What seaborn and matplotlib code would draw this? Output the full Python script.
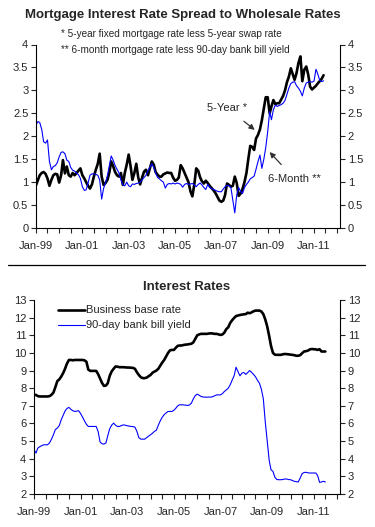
import pandas as pd
import numpy as np
import seaborn as sns
import matplotlib.pyplot as plt
import matplotlib.dates as mdates
from matplotlib.lines import Line2D
from matplotlib.ticker import FuncFormatter, MultipleLocator

# monthly data, Jan-99 onwards
five_year = [
    0.93, 1.05, 1.15, 1.20, 1.22, 1.18, 1.08, 0.92, 1.05, 1.15, 1.18, 1.17,
    0.99, 1.15, 1.48, 1.19, 1.34, 1.15, 1.12, 1.20, 1.15, 1.20, 1.25, 1.30,
    1.15, 1.08, 1.00, 0.92, 0.86, 0.95, 1.12, 1.27, 1.40, 1.62, 1.12, 0.94,
    0.98, 1.05, 1.20, 1.45, 1.35, 1.22, 1.15, 1.12, 1.20, 0.94, 1.20, 1.38,
    1.60, 1.34, 1.05, 1.20, 1.40, 1.10, 0.95, 1.10, 1.23, 1.27, 1.15, 1.30,
    1.45, 1.38, 1.22, 1.16, 1.12, 1.12, 1.17, 1.19, 1.21, 1.20, 1.20, 1.10,
    1.03, 1.05, 1.10, 1.37, 1.30, 1.20, 1.10, 1.00, 0.80, 0.69, 0.95, 1.30,
    1.25, 1.10, 1.02, 0.97, 1.03, 0.98, 0.92, 0.87, 0.82, 0.76, 0.68, 0.60,
    0.57, 0.60, 0.72, 0.97, 0.94, 0.90, 0.92, 1.12, 0.98, 0.70, 0.75, 0.85,
    1.00, 1.20, 1.50, 1.79, 1.77, 1.70, 1.95, 2.03, 2.15, 2.35, 2.60, 2.85,
    2.85, 2.50, 2.65, 2.79, 2.70, 2.72, 2.72, 2.80, 2.88, 3.00, 3.18, 3.30,
    3.48, 3.35, 3.23, 3.38, 3.60, 3.74, 3.20, 3.45, 3.52, 3.35, 3.08, 3.02,
    3.06, 3.10, 3.15, 3.20, 3.25, 3.33,
]
six_month = [
    2.25, 2.32, 2.30, 2.15, 1.88, 1.85, 1.92, 1.45, 1.27, 1.34, 1.36, 1.42,
    1.55, 1.65, 1.66, 1.62, 1.48, 1.45, 1.32, 1.26, 1.24, 1.20, 1.16, 1.08,
    0.90, 0.82, 0.83, 0.98, 1.15, 1.18, 1.18, 1.17, 1.15, 1.05, 0.63, 0.86,
    0.98, 1.15, 1.35, 1.57, 1.48, 1.36, 1.28, 1.20, 1.05, 0.94, 0.92, 1.00,
    0.92, 0.90, 0.96, 0.95, 0.97, 0.98, 1.00, 1.05, 1.10, 1.15, 1.25, 1.32,
    1.40, 1.32, 1.20, 1.10, 1.07, 1.03, 1.00, 0.87, 0.95, 0.97, 0.96, 0.98,
    0.96, 0.98, 0.97, 0.95, 0.89, 0.95, 0.97, 0.95, 0.96, 0.97, 0.94, 0.90,
    0.95, 0.98, 0.94, 0.88, 0.84, 0.95, 0.88, 0.86, 0.84, 0.82, 0.80, 0.79,
    0.79, 0.85, 0.90, 0.93, 0.92, 0.88, 0.61, 0.33, 0.72, 0.88, 0.80, 0.75,
    0.88, 0.95, 1.00, 1.07, 1.10, 1.13, 1.28, 1.45, 1.59, 1.30, 1.50, 1.75,
    2.10, 2.54, 2.36, 2.58, 2.68, 2.65, 2.67, 2.69, 2.72, 2.78, 2.92, 3.05,
    3.15, 3.18, 3.19, 3.10, 3.05, 2.98, 2.88, 3.05, 3.16, 3.18, 3.19, 3.18,
    3.20, 3.46, 3.36, 3.22, 3.19, 3.21,
]
base_rate = [
    7.62, 7.62, 7.55, 7.53, 7.53, 7.53, 7.53, 7.53, 7.55, 7.62, 7.75, 8.05,
    8.40, 8.50, 8.65, 8.85, 9.10, 9.40, 9.60, 9.60, 9.58, 9.60, 9.60, 9.60,
    9.60, 9.60, 9.58, 9.50, 9.05, 8.98, 8.98, 8.98, 8.98, 8.80, 8.55, 8.30,
    8.13, 8.15, 8.28, 8.70, 8.95, 9.10, 9.23, 9.22, 9.19, 9.19, 9.19, 9.18,
    9.17, 9.17, 9.16, 9.15, 9.10, 8.90, 8.75, 8.62, 8.57, 8.57, 8.60, 8.68,
    8.75, 8.88, 8.94, 9.00, 9.10, 9.28, 9.45, 9.60, 9.80, 10.00, 10.15, 10.17,
    10.17, 10.30, 10.40, 10.42, 10.42, 10.45, 10.47, 10.48, 10.50, 10.52, 10.60, 10.80,
    11.00, 11.05, 11.08, 11.08, 11.08, 11.08, 11.10, 11.11, 11.10, 11.08, 11.08, 11.05,
    11.02, 11.05, 11.15, 11.35, 11.45, 11.70, 11.85, 11.98, 12.09, 12.12, 12.15, 12.17,
    12.19, 12.20, 12.28, 12.25, 12.30, 12.36, 12.40, 12.40, 12.40, 12.35, 12.20, 11.90,
    11.50, 10.95, 10.40, 10.00, 9.90, 9.89, 9.89, 9.89, 9.92, 9.94, 9.93, 9.92,
    9.90, 9.89, 9.87, 9.84, 9.84, 9.87, 9.98, 10.08, 10.10, 10.13, 10.20, 10.22,
    10.21, 10.20, 10.17, 10.21, 10.08, 10.08, 10.08,
]
bill_yield = [
    4.51, 4.32, 4.60, 4.68, 4.74, 4.79, 4.79, 4.79, 4.90, 5.10, 5.36, 5.65,
    5.74, 5.88, 6.20, 6.45, 6.70, 6.85, 6.91, 6.80, 6.72, 6.68, 6.70, 6.72,
    6.55, 6.35, 6.15, 5.95, 5.83, 5.83, 5.83, 5.83, 5.83, 5.55, 4.95, 4.85,
    4.83, 4.90, 5.30, 5.70, 5.90, 6.02, 5.90, 5.83, 5.83, 5.88, 5.92, 5.90,
    5.87, 5.85, 5.83, 5.82, 5.79, 5.55, 5.20, 5.11, 5.11, 5.11, 5.20, 5.28,
    5.36, 5.45, 5.55, 5.62, 5.90, 6.15, 6.35, 6.50, 6.60, 6.68, 6.68, 6.68,
    6.75, 6.87, 7.00, 7.06, 7.06, 7.05, 7.04, 7.02, 7.05, 7.15, 7.40, 7.58,
    7.66, 7.60, 7.53, 7.50, 7.49, 7.49, 7.50, 7.49, 7.52, 7.57, 7.62, 7.62,
    7.62, 7.70, 7.81, 7.90, 8.00, 8.19, 8.45, 8.70, 9.19, 8.94, 8.70, 8.85,
    8.89, 8.78, 8.89, 9.00, 8.90, 8.78, 8.65, 8.45, 8.28, 7.95, 7.40, 6.10,
    5.00, 3.90, 3.38, 3.28, 2.95, 2.82, 2.81, 2.81, 2.82, 2.85, 2.85, 2.82,
    2.81, 2.76, 2.72, 2.70, 2.68, 2.90, 3.15, 3.22, 3.23, 3.20, 3.19, 3.19,
    3.19, 3.19, 3.05, 2.66, 2.68, 2.72, 2.68,
]
tick_years = [1999, 2001, 2003, 2005, 2007, 2009, 2011]

spread_dates = pd.date_range("1999-01-01", periods=len(five_year), freq="MS")
rate_dates = pd.date_range("1999-01-01", periods=len(base_rate), freq="MS")

spread = pd.DataFrame({"date": spread_dates, "five": five_year, "six": six_month})
rates = pd.DataFrame({"date": rate_dates, "base": base_rate, "bill": bill_yield})

sns.set_style("white")
plt.rcParams["font.family"] = ["Liberation Sans", "DejaVu Sans"]
plt.rcParams["font.size"] = 8

W, H = 375, 527
fig = plt.figure(figsize=(W / 100, H / 100), dpi=100)

def px_axes(l, t, r, b):
    return fig.add_axes([l / W, 1 - b / H, (r - l) / W, (b - t) / H])

x_start = pd.Timestamp("1999-01-01")
x_end = pd.Timestamp("2012-02-15")

def style_axes(ax):
    ax.set_xlim(x_start, x_end)
    ax.spines["top"].set_visible(False)
    for s in ["left", "right", "bottom"]:
        ax.spines[s].set_visible(True)
        ax.spines[s].set_color("black")
        ax.spines[s].set_linewidth(0.8)
    ax.set_xticks([pd.Timestamp(f"{y}-01-01") for y in tick_years])
    ax.xaxis.set_major_formatter(mdates.DateFormatter("Jan-%y"))
    ax.xaxis.set_minor_locator(mdates.MonthLocator(bymonth=[1, 7]))
    ax.tick_params(axis="x", which="both", direction="out", length=3.5, width=0.8,
                   bottom=True, pad=6, labelsize=8)
    ax.tick_params(axis="y", direction="out", length=3.5, width=0.8, left=True,
                   right=True, labelleft=True, labelright=True, labelsize=8, pad=2)
    ax.yaxis.set_major_formatter(FuncFormatter(lambda v, p: f"{v:g}"))
    ax.set_xlabel("")
    ax.set_ylabel("")
    ax.grid(False)

# top chart
ax1 = px_axes(36, 44.5, 340, 228)
sns.lineplot(data=spread, x="date", y="five", ax=ax1, color="black", linewidth=1.9)
sns.lineplot(data=spread, x="date", y="six", ax=ax1, color="#0000ff", linewidth=0.8)
ax1.set_ylim(0, 4)
ax1.yaxis.set_major_locator(MultipleLocator(0.5))
style_axes(ax1)

fig.text(183 / W, 1 - 15 / H, "Mortgage Interest Rate Spread to Wholesale Rates",
         ha="center", va="center", fontsize=9.5, fontweight="bold")
fig.text(61 / W, 1 - 34 / H, "* 5-year fixed mortgage rate less 5-year swap rate",
         ha="left", va="center", fontsize=7.2)
fig.text(61 / W, 1 - 50 / H, "** 6-month mortgage rate less 90-day bank bill yield",
         ha="left", va="center", fontsize=7.2)

arrow = dict(arrowstyle="-|>", color="#333333", lw=0.9, mutation_scale=8)
ax1.annotate("5-Year *", xy=(pd.Timestamp("2008-07-15"), 2.1),
             xytext=(pd.Timestamp("2007-04-01"), 2.62), ha="center", va="center",
             fontsize=8, arrowprops=dict(arrow, shrinkA=6))
ax1.annotate("6-Month **", xy=(pd.Timestamp("2009-01-01"), 1.7),
             xytext=(pd.Timestamp("2010-03-01"), 1.07), ha="center", va="center",
             fontsize=8, arrowprops=dict(arrow, shrinkA=6))

# separator
fig.add_artist(Line2D([8 / W, 365 / W], [1 - 265 / H, 1 - 265 / H], color="black", lw=0.9))

# bottom chart
ax2 = px_axes(34, 300, 340, 494)
sns.lineplot(data=rates, x="date", y="base", ax=ax2, color="black", linewidth=1.9,
             label="Business base rate")
sns.lineplot(data=rates, x="date", y="bill", ax=ax2, color="#0000ff", linewidth=0.8,
             label="90-day bank bill yield")
ax2.set_ylim(2, 13)
ax2.yaxis.set_major_locator(MultipleLocator(1))
style_axes(ax2)
ax2.legend(loc="upper left", bbox_to_anchor=(0.065, 0.995), frameon=False, fontsize=8,
           handlelength=2.4, handletextpad=0.1, labelspacing=0.45, borderaxespad=0)

fig.text(187 / W, 1 - 287 / H, "Interest Rates", ha="center", va="center",
         fontsize=9.5, fontweight="bold")

fig.savefig("out.png", dpi=100)
